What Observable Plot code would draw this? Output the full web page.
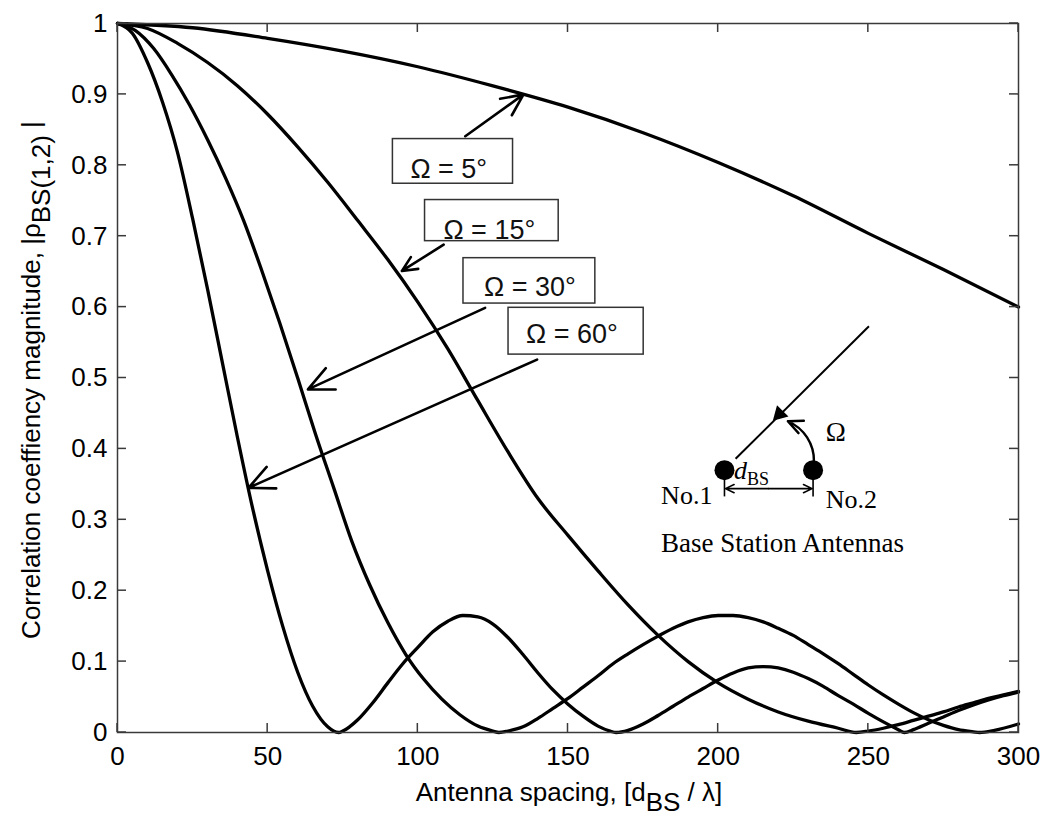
<!DOCTYPE html>
<html><head><meta charset="utf-8">
<script src="https://cdn.jsdelivr.net/npm/d3@7"></script>
<script src="https://cdn.jsdelivr.net/npm/@observablehq/plot@0.6"></script>
<style>body{margin:0;background:#fff} svg{display:block}</style>
</head><body><div id="chart"></div><script>
// ---- data ----
const xTicks = [0, 50, 100, 150, 200, 250, 300];
const yTicks = [0, 0.1, 0.2, 0.3, 0.4, 0.5, 0.6, 0.7, 0.8, 0.9, 1];

const spacing60 = [0,5,10,15,20,25,30,35,40,45,50,55,60,65,70,73.6,75,80,85,90,95,100,105,110,115,120,125,130,135,140,145,150,155,160,164,166,170,175,180,185,190,195,200,205,210,215,220,225,230,235,240,245,250,255,260,262,265,270,275,280,285,290,295,300];
const rho60     = [1,0.986,0.945,0.889,0.818,0.725,0.625,0.52,0.415,0.316,0.228,0.15,0.085,0.037,0.008,0,0.002,0.018,0.042,0.07,0.097,0.12,0.142,0.157,0.165,0.163,0.153,0.134,0.11,0.084,0.06,0.04,0.023,0.009,0.002,0,0.003,0.012,0.024,0.037,0.05,0.062,0.074,0.084,0.091,0.093,0.091,0.085,0.076,0.065,0.052,0.04,0.027,0.015,0.004,0,0.004,0.013,0.022,0.031,0.039,0.046,0.052,0.057];

const spacing30 = [0,6,12,18,24,30,36,42,48,54,60,66,72,78,84,90,96,102,108,114,120,125,127,130,135,140,145,150,155,160,165,170,175,180,185,190,195,200,205,210,215,220,225,230,235,240,245,250,255,260,265,270,275,280,285,287,292,300];
const rho30     = [1,0.99,0.965,0.928,0.885,0.836,0.782,0.722,0.652,0.578,0.5,0.42,0.345,0.27,0.208,0.155,0.11,0.075,0.047,0.025,0.009,0.002,0,0.002,0.008,0.02,0.034,0.048,0.064,0.08,0.097,0.111,0.124,0.136,0.147,0.156,0.162,0.165,0.165,0.162,0.156,0.147,0.137,0.124,0.111,0.097,0.082,0.067,0.053,0.04,0.028,0.018,0.01,0.004,0.001,0,0.003,0.012];

const spacing15 = [0,10,20,30,40,50,60,70,80,90,100,110,120,130,140,150,160,170,180,190,200,210,220,230,240,246,250,255,260,265,270,275,280,285,290,295,300];
const rho15     = [1,0.993,0.972,0.945,0.912,0.872,0.826,0.776,0.722,0.667,0.607,0.541,0.468,0.396,0.33,0.278,0.228,0.18,0.137,0.1,0.07,0.047,0.029,0.016,0.006,0,0.002,0.006,0.011,0.017,0.023,0.029,0.036,0.042,0.048,0.053,0.058];

const spacing5 = [0,25,50,75,100,125,150,175,200,225,250,275,300];
const rho5     = [1,0.994,0.979,0.961,0.939,0.912,0.882,0.846,0.804,0.757,0.704,0.653,0.6];

const omegaLabels = ["Ω = 5°", "Ω = 15°", "Ω = 30°", "Ω = 60°"];

// ---- annotations (data coordinates) ----
const boxes = [
  {label: omegaLabels[0], x1: 91.7, x2: 131.7, y1: 0.774, y2: 0.837, tx: 110.3, ty: 0.794},
  {label: omegaLabels[1], x1: 102.4, x2: 146.9, y1: 0.693, y2: 0.751, tx: 123.8, ty: 0.708},
  {label: omegaLabels[2], x1: 115.2, x2: 159.1, y1: 0.605, y2: 0.669, tx: 137.3, ty: 0.628},
  {label: omegaLabels[3], x1: 130.2, x2: 175.2, y1: 0.533, y2: 0.599, tx: 151.3, ty: 0.562}
];
const pointers = [
  {x1: 115.8, y1: 0.841, x2: 135.2, y2: 0.900},
  {x1: 108.6, y1: 0.688, x2: 94.7, y2: 0.651},
  {x1: 122.4, y1: 0.599, x2: 63.4, y2: 0.484},
  {x1: 139.7, y1: 0.526, x2: 43.6, y2: 0.345}
];
const antennaX = [202.1, 231.6];
const antennaY = 0.370;

const series = [
  {omega: 60, d: spacing60, r: rho60},
  {omega: 30, d: spacing30, r: rho30},
  {omega: 15, d: spacing15, r: rho15},
  {omega: 5, d: spacing5, r: rho5}
];
const rows = series.flatMap(s => s.d.map((d, i) => ({omega: s.omega, d, rho: s.r[i]})));

const sans = "'Liberation Sans', Arial, Helvetica, sans-serif";
const serif = "'Liberation Serif', 'Times New Roman', serif";

const chart = Plot.plot({
  width: 1054, height: 816,
  marginLeft: 117, marginRight: 36, marginTop: 23, marginBottom: 84,
  x: {domain: [0, 300], label: null},
  y: {domain: [0, 1], label: null},
  style: {fontFamily: sans, background: "white", color: "black"},
  marks: [
    Plot.axisX({ticks: xTicks, tickSize: 0, tickPadding: 14, fontSize: 26, label: null}),
    Plot.axisY({ticks: yTicks, tickSize: 0, tickPadding: 10, fontSize: 26, label: null, tickFormat: d => String(d)}),
    Plot.line(rows, {x: "d", y: "rho", z: "omega", stroke: "black", strokeWidth: 3.3, curve: "monotone-x"}),
    // legend boxes
    Plot.rect(boxes, {x1: "x1", x2: "x2", y1: "y1", y2: "y2", fill: "white", stroke: "#333", strokeWidth: 1.5}),
    Plot.text(boxes, {x: "tx", y: "ty", text: "label", fontSize: 27, fontFamily: sans, fill: "#111"}),
    Plot.arrow(pointers, {x1: "x1", y1: "y1", x2: "x2", y2: "y2", stroke: "black", strokeWidth: 2.6, headLength: 16, headAngle: 50}),
    // inset diagram
    Plot.link([{x1: 250.2, y1: 0.573, x2: 205.8, y2: 0.386}], {x1: "x1", y1: "y1", x2: "x2", y2: "y2", stroke: "black", strokeWidth: 2}),
    Plot.dot([{x: 220.4, y: 0.449}], {x: "x", y: "y", symbol: "triangle", r: 6, rotate: 225, fill: "black", stroke: "none"}),
    Plot.dot(antennaX, {x: d => d, y: () => antennaY, r: 10, fill: "black", stroke: "none"}),
    Plot.link(antennaX, {x1: d => d, x2: d => d, y1: () => 0.360, y2: () => 0.333, stroke: "black", strokeWidth: 1.6}),
    Plot.arrow([{x1: 216.8, x2: 202.4, y: 0.344}, {x1: 216.8, x2: 231.3, y: 0.344}], {x1: "x1", x2: "x2", y1: "y", y2: "y", stroke: "black", strokeWidth: 1.6, headLength: 9, headAngle: 50}),
    Plot.arrow([{x1: 231.9, y1: 0.382, x2: 223.2, y2: 0.439}], {x1: "x1", y1: "y1", x2: "x2", y2: "y2", bend: -34, stroke: "black", strokeWidth: 2.4, headLength: 10, headAngle: 50}),
    Plot.text([{x: 239.2, y: 0.423, t: "Ω"}], {x: "x", y: "y", text: "t", fontSize: 27, fontFamily: serif}),
    Plot.text([{x: 181.0, y: 0.3225, t: "No.1"}, {x: 235.8, y: 0.317, t: "No.2"}], {x: "x", y: "y", text: "t", fontSize: 26, fontFamily: serif, textAnchor: "start", lineAnchor: "bottom"}),
    Plot.text([{x: 181.0, y: 0.255, t: "Base Station Antennas"}], {x: "x", y: "y", text: "t", fontSize: 27, fontFamily: serif, textAnchor: "start", lineAnchor: "bottom"}),
    Plot.frame({stroke: "#3a3a3a", strokeWidth: 1.5})
  ]
});

document.getElementById("chart").appendChild(chart);

// inward ticks on all four sides, placed with the plot's own scales
const sx = chart.scale("x"), sy = chart.scale("y");
const svgSel = d3.select(chart);
const tickG = svgSel.append("g").attr("stroke", "#3a3a3a").attr("stroke-width", 1.5);
const pTop = sy.apply(1), pBottom = sy.apply(0), pLeft = sx.apply(0), pRight = sx.apply(300);
const TL = 9;
for (const t of xTicks) {
  const px = sx.apply(t);
  tickG.append("line").attr("x1", px).attr("x2", px).attr("y1", pBottom).attr("y2", pBottom - TL);
  tickG.append("line").attr("x1", px).attr("x2", px).attr("y1", pTop).attr("y2", pTop + TL);
}
for (const t of yTicks) {
  const py = sy.apply(t);
  tickG.append("line").attr("y1", py).attr("y2", py).attr("x1", pLeft).attr("x2", pLeft + TL);
  tickG.append("line").attr("y1", py).attr("y2", py).attr("x1", pRight).attr("x2", pRight - TL);
}

// d_BS label in the inset
const dl = svgSel.append("text").attr("x", sx.apply(211.3)).attr("y", sy.apply(0.357))
  .attr("font-family", serif).attr("font-size", 26).attr("fill", "black");
dl.append("tspan").attr("font-style", "italic").text("d");
dl.append("tspan").attr("font-size", 18).attr("dy", 6).text("BS");

// axis titles with subscripts
const xl = svgSel.append("text").attr("x", 569).attr("y", 801).attr("text-anchor", "middle")
  .attr("font-family", sans).attr("font-size", 26).attr("fill", "black");
xl.append("tspan").text("Antenna spacing, [d");
xl.append("tspan").attr("dy", 10).text("BS");
xl.append("tspan").attr("dy", -10).text(" / λ]");

const yl = svgSel.append("text").attr("transform", "translate(40,380) rotate(-90)").attr("text-anchor", "middle")
  .attr("font-family", sans).attr("font-size", 26).attr("fill", "black");
yl.append("tspan").text("Correlation coeffiency magnitude, |ρ");
yl.append("tspan").attr("dy", 10).text("BS(1,2)");
yl.append("tspan").attr("dy", -10).text(" |");
</script></body></html>
